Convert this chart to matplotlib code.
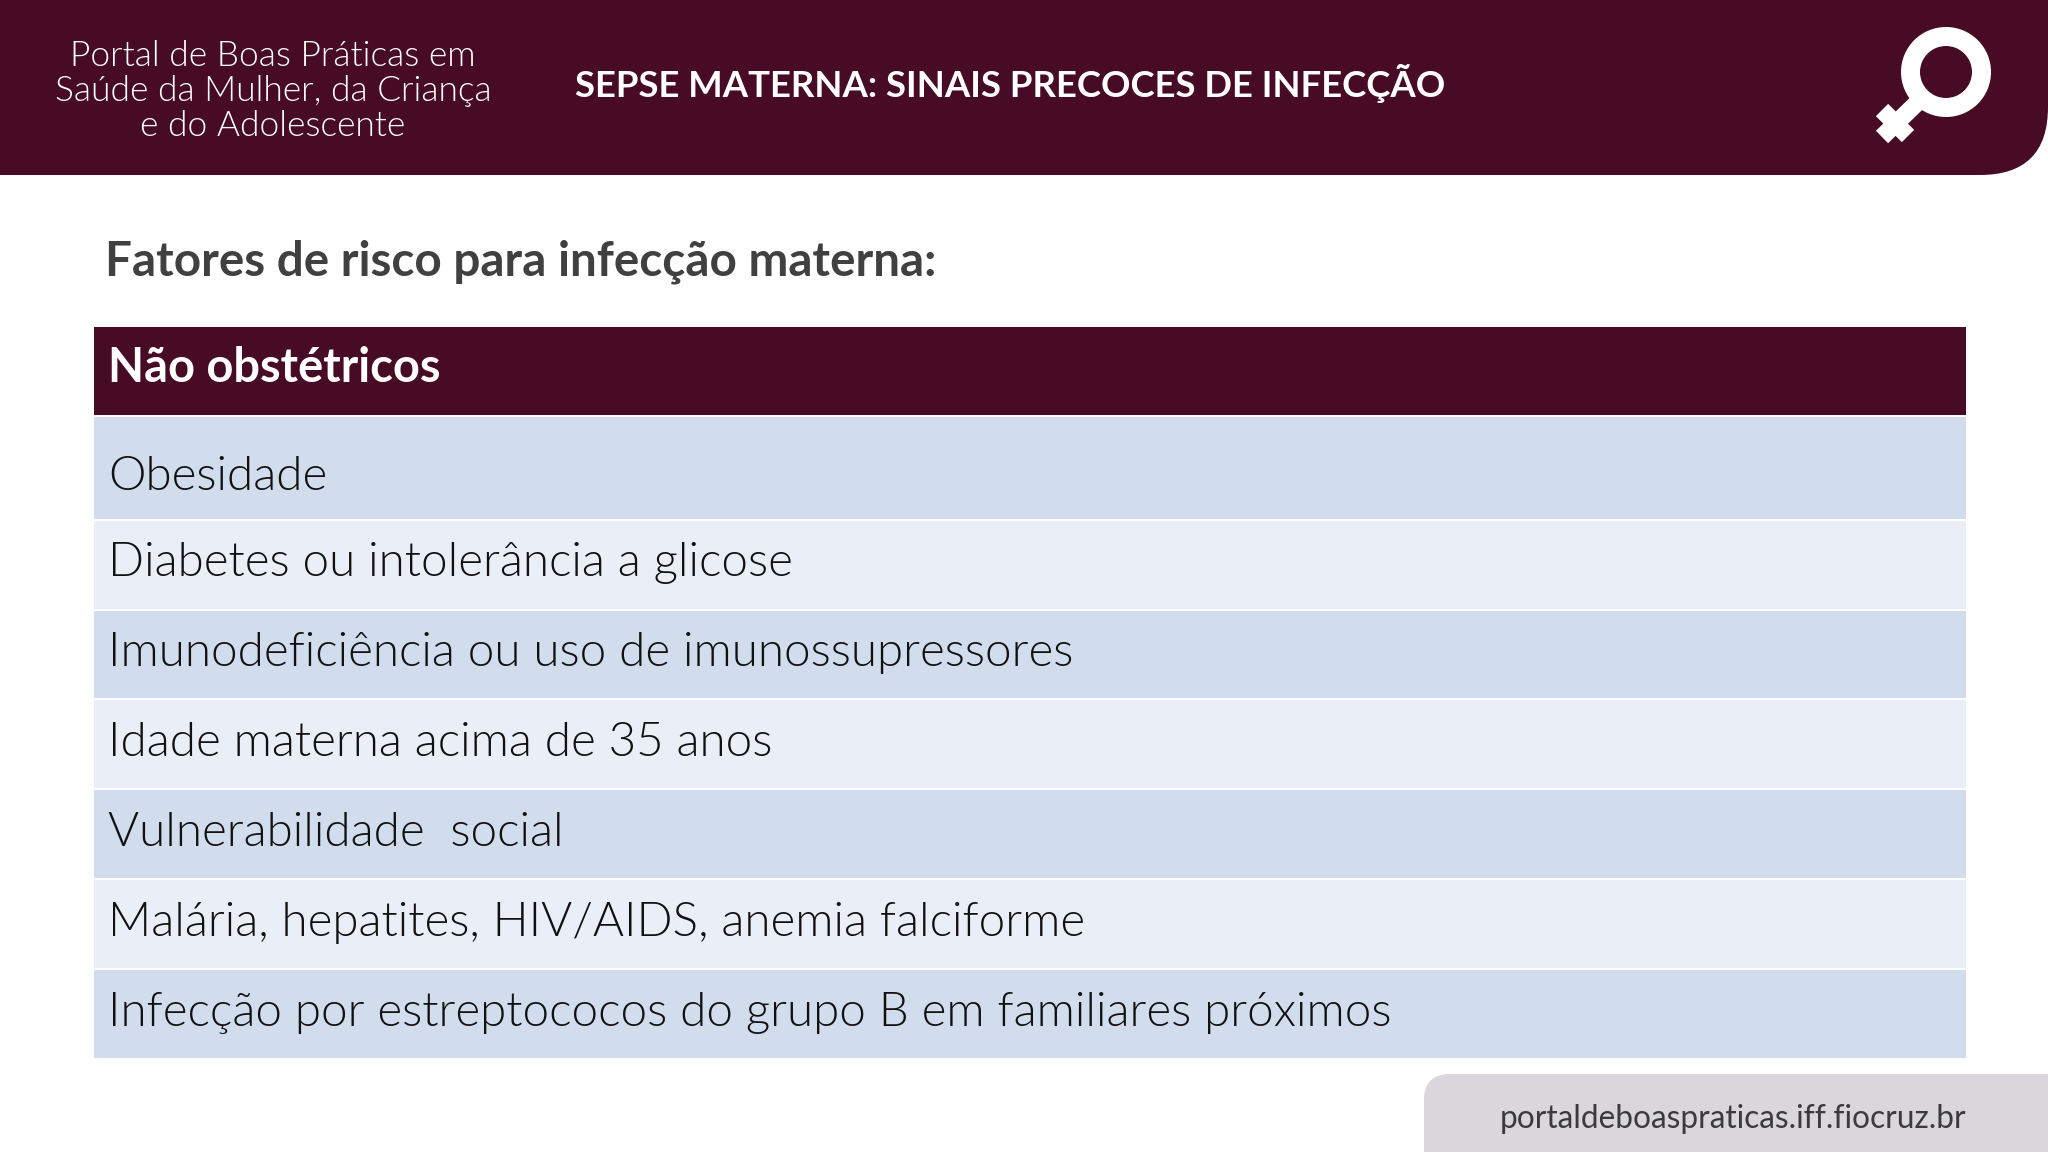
import matplotlib
matplotlib.use('Agg')
import matplotlib.pyplot as plt
from matplotlib import font_manager
from matplotlib.patches import Rectangle, PathPatch, Annulus
from matplotlib.path import Path

# Slide text
portal_lines = ['Portal de Boas Práticas em', 'Saúde da Mulher, da Criança', 'e do Adolescente']
slide_title = 'SEPSE MATERNA: SINAIS PRECOCES DE INFECÇÃO'
subtitle = 'Fatores de risco para infecção materna:'
table_header = 'Não obstétricos'
table_rows = [
    'Obesidade',
    'Diabetes ou intolerância a glicose',
    'Imunodeficiência ou uso de imunossupressores',
    'Idade materna acima de 35 anos',
    'Vulnerabilidade  social',
    'Malária, hepatites, HIV/AIDS, anemia falciforme',
    'Infecção por estreptococos do grupo B em familiares próximos',
]
footer_url = 'portaldeboaspraticas.iff.fiocruz.br'

# Layout in slide pixels
row_tops = [417, 521, 611, 700, 790, 880, 970]
row_bottoms = [519, 609, 698, 788, 878, 968, 1058]
row_baselines = [490, 576, 666, 756, 846, 936, 1026]

WINE = '#470B26'
ROW_DARK = '#D1DDED'
ROW_LIGHT = '#EAEEF7'
FONT = 'Lato'


def light_font(size):
    # the 'light' weight lookup lands on a hairline cut, so look for the file itself
    for f in font_manager.fontManager.ttflist:
        if f.fname.endswith('Lato-Light.ttf'):
            return font_manager.FontProperties(fname=f.fname, size=size)
    return font_manager.FontProperties(family=FONT, size=size * 0.96)


fig = plt.figure(figsize=(20.48, 11.52), dpi=100, facecolor='white')
ax = fig.add_axes([0, 0, 1, 1])
ax.set_xlim(0, 2048)
ax.set_ylim(1152, 0)
ax.axis('off')

# Top banner with rounded bottom right corner
r = 68
banner = Path(
    [(0, 0), (2048, 0), (2048, 175 - r), (2048, 175), (2048 - r, 175), (0, 175), (0, 0)],
    [Path.MOVETO, Path.LINETO, Path.LINETO, Path.CURVE3, Path.CURVE3, Path.LINETO, Path.CLOSEPOLY],
)
ax.add_patch(PathPatch(banner, facecolor=WINE, edgecolor='none'))

for line, y in zip(portal_lines, [66, 101, 136]):
    ax.text(273, y, line, color='white', fontproperties=light_font(25.4), ha='center', va='baseline')
ax.text(575, 97, slide_title, color='white', fontsize=26.3, family=FONT, fontweight='bold',
        va='baseline')

# Female symbol
ax.add_patch(Annulus((1946, 72), 45, 19, facecolor='white', edgecolor='none'))
ax.plot([1922, 1882], [98, 137], color='white', lw=12.5, solid_capstyle='butt')
ax.plot([1882, 1908], [110, 136], color='white', lw=12.5, solid_capstyle='butt')

ax.text(105, 276, subtitle, color='#404040', fontsize=34.3, family=FONT, fontweight='bold',
        va='baseline')

# Table
ax.add_patch(Rectangle((94, 327), 1872, 88, facecolor=WINE, edgecolor='none'))
ax.text(108, 382, table_header, color='white', fontsize=33.8, family=FONT, fontweight='bold',
        va='baseline')
for i, label in enumerate(table_rows):
    color = ROW_DARK if i % 2 == 0 else ROW_LIGHT
    ax.add_patch(Rectangle((94, row_tops[i]), 1872, row_bottoms[i] - row_tops[i],
                           facecolor=color, edgecolor='none'))
    ax.text(108, row_baselines[i], label, color='#111111', fontproperties=light_font(34.2),
            va='baseline')

# Footer tab with rounded top left corner
c = 26
tab = Path(
    [(1424, 1152), (1424, 1074 + c), (1424, 1074), (1424 + c, 1074), (2048, 1074), (2048, 1152), (1424, 1152)],
    [Path.MOVETO, Path.LINETO, Path.CURVE3, Path.CURVE3, Path.LINETO, Path.LINETO, Path.CLOSEPOLY],
)
ax.add_patch(PathPatch(tab, facecolor='#D9D7DB', edgecolor='none'))
ax.text(1966, 1128, footer_url, color='#3A3A3F', fontsize=22.8, family=FONT, ha='right',
        va='baseline')

fig.savefig('out.png', dpi=100, facecolor='white')
plt.close(fig)
